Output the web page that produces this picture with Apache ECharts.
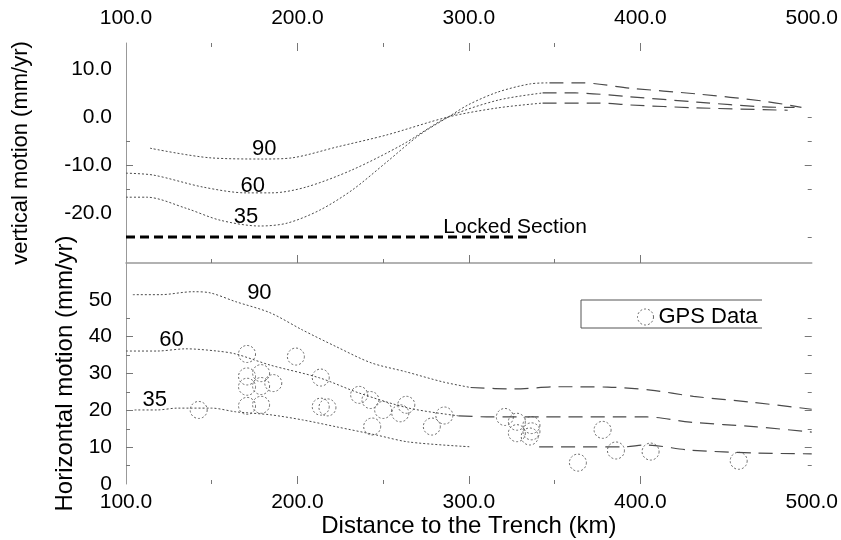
<!DOCTYPE html>
<html>
<head>
<meta charset="utf-8">
<script src="https://cdn.jsdelivr.net/npm/echarts@6/dist/echarts.min.js"></script>
<style>
  html, body { margin: 0; padding: 0; background: #fff; }
  #chart { width: 841px; height: 540px; }
</style>
</head>
<body>
<div id="chart"></div>
<script>
// top panel: vertical motion (mm/yr) vs distance to trench (km), one curve per dip
const vDist35 = [100, 112, 135, 155, 178, 194, 213, 232, 252, 271, 288, 300, 317, 336, 347, 366, 394, 433, 472, 494];
const vVal35  = [-16.7, -16.7, -19.0, -21.5, -22.7, -22.1, -19.4, -15.2, -9.4, -3.8, 0, 2.6, 5.2, 6.9, 7.1, 7.1, 6.0, 4.8, 3.3, 2.0];
const vDist60 = [100, 116, 145, 170, 185, 205, 232, 261, 288, 317, 343, 362, 394, 433, 472, 490];
const vVal60  = [-11.7, -12.1, -14.6, -15.8, -15.8, -14.6, -11.0, -5.8, 0, 3.5, 5.0, 5.0, 4.2, 3.1, 2.1, 2.0];
const vDist90 = [114, 149, 180, 197, 223, 252, 288, 317, 343, 376, 394, 433, 486];
const vVal90  = [-6.5, -8.5, -8.75, -8.5, -6.25, -3.75, 0, 1.9, 2.9, 2.9, 2.5, 1.9, 1.4];
const lockedDist = [100, 335];
const lockedVal  = [-25, -25];

// bottom panel: horizontal motion (mm/yr)
const hDist90 = [104, 120, 139, 149, 164, 184, 203, 223, 243, 263, 285, 301, 326, 352, 381, 406, 431, 465, 500];
const hVal90  = [51.4, 51.4, 52.2, 51.9, 49.5, 46.5, 41.8, 37.2, 32.9, 30.5, 27.7, 26.2, 25.8, 26.4, 26.3, 25.5, 23.8, 22.2, 20.3];
const hDist60 = [100, 118, 135, 153, 164, 184, 213, 236, 265, 294, 313, 342, 387, 404, 429, 468, 500];
const hVal60  = [36.1, 36.1, 36.7, 36.1, 35.3, 32.3, 28.8, 24.7, 20.6, 18.5, 18.2, 18.2, 18.2, 18.2, 16.8, 15.5, 14.1];
const hDist35 = [105, 118, 130, 150, 164, 184, 203, 223, 246, 265, 301, 320, 341, 391, 403, 429, 468, 500];
const hVal35  = [20.1, 20.1, 20.6, 20.6, 19.6, 18.8, 17.4, 15.5, 13.3, 11.4, 10.1, null, 10.1, 10.1, 10.6, 9.2, 8.4, 8.2];

// GPS stations
const gpsDist = [142.4, 170.6, 199.1, 170.6, 178.8, 170.6, 178.8, 185.9, 170.6, 178.8, 213.6, 213.6, 217.5,
                 236, 242.6, 243.6, 250, 260, 263.5, 278.4, 285.7, 321, 328, 328, 336.5, 336.5, 335.5,
                 378, 363.6, 385.8, 406, 457.4];
const gpsVel  = [20.1, 35.3, 34.6, 29.2, 30.1, 26.4, 26.6, 27.4, 21.2, 21.5, 28.9, 21.0, 20.8,
                 24.2, 22.8, 15.6, 20.1, 19.2, 21.5, 15.6, 18.6, 18.2, 16.9, 13.8, 16.0, 14.3, 12.9,
                 14.7, 5.8, 9.1, 8.8, 6.3];

// labels
const curveNames = ['35', '60', '90'];
const vLabelPos = [[170, -20.8], [174, -14.4], [180.7, -6.7]];
const hLabelPos = [[116.8, 22.8], [126.5, 39.1], [177.8, 51.8]];
const lockedLabelPos = [327, -22.9];
const xTickLabels = [100, 200, 300, 400, 500];
const vTickLabels = [10, 0, -10, -20];
const hTickLabels = [0, 10, 20, 30, 40, 50];

const FONT = 'Liberation Sans';
const AXIS_GRAY = '#999';
const TICK_GRAY = '#777';
const CURVE = '#4a4a4a';
const CIRCLE = { color: 'rgba(0,0,0,0)', borderColor: '#666', borderWidth: 1, borderType: [2, 2], opacity: 1 };

const pairs = (d, v) => d.map((x, i) => [x, v[i]]);
function splitAt(d, v, cut) {
  let k = 0;
  d.forEach((x, i) => { if (x <= cut) k = i; });
  return [pairs(d.slice(0, k + 1), v.slice(0, k + 1)), pairs(d.slice(k), v.slice(k))];
}

function xAx(grid, pos, ticks, len, extra) {
  return Object.assign({
    type: 'value', gridIndex: grid, position: pos, min: 100, max: 500,
    axisLine: { show: false, onZero: false },
    axisTick: { show: true, inside: true, length: len, customValues: ticks, lineStyle: { color: TICK_GRAY } },
    axisLabel: { show: false },
    splitLine: { show: false }
  }, extra || {});
}
function yAx(grid, pos, min, max, ticks, len, extra) {
  return Object.assign({
    type: 'value', gridIndex: grid, position: pos, min: min, max: max,
    axisLine: { show: false, onZero: false },
    axisTick: { show: true, inside: true, length: len, customValues: ticks, lineStyle: { color: TICK_GRAY } },
    axisLabel: { show: false },
    splitLine: { show: false }
  }, extra || {});
}

const labelStyle = { color: '#000', fontFamily: FONT, fontSize: 21 };

const xAxis = [
  // 0: top panel, labels on top
  xAx(0, 'top', [200, 300, 400], 8, {
    axisLabel: Object.assign({ show: true, customValues: xTickLabels, margin: 14,
      formatter: v => v.toFixed(1) }, labelStyle)
  }),
  xAx(0, 'top', [150, 250, 350], 4),
  // 2: separator line between panels
  xAx(0, 'bottom', [200, 300, 400], 8, {
    axisLine: { show: true, onZero: false, lineStyle: { color: AXIS_GRAY, width: 1.5 } }
  }),
  xAx(0, 'bottom', [150, 250, 350], 4),
  // 4: bottom panel
  xAx(1, 'bottom', [200, 300, 400], 8, {
    axisLabel: Object.assign({ show: true, customValues: xTickLabels, margin: 8,
      formatter: v => v.toFixed(1) }, labelStyle),
    name: 'Distance to the Trench (km)', nameLocation: 'middle', nameGap: 28,
    nameTextStyle: { color: '#000', fontFamily: FONT, fontSize: 24 }
  }),
  xAx(1, 'bottom', [150, 250, 350], 4)
];

const yAxis = [
  // 0: top panel left
  yAx(0, 'left', -30.4, 15.4, [-10], 7, {
    axisLine: { show: true, onZero: false, lineStyle: { color: AXIS_GRAY } },
    axisLabel: Object.assign({ show: true, customValues: vTickLabels, margin: 14,
      formatter: v => v.toFixed(1) }, labelStyle),
    name: 'vertical motion (mm/yr)', nameLocation: 'middle', nameGap: 94,
    nameTextStyle: { color: '#000', fontFamily: FONT, fontSize: 22 }
  }),
  yAx(0, 'left', -30.4, 15.4, [-25, -15, -5], 4),
  yAx(0, 'right', -30.4, 15.4, [-10], 7),
  yAx(0, 'right', -30.4, 15.4, [-25, -15, -5, 0], 4),
  // 4: bottom panel left
  yAx(1, 'left', 0, 60, [10, 20, 30, 40], 7, {
    axisLine: { show: true, onZero: false, lineStyle: { color: AXIS_GRAY } },
    axisLabel: Object.assign({ show: true, customValues: hTickLabels, margin: 14 }, labelStyle),
    name: 'Horizontal motion (mm/yr)', nameLocation: 'middle', nameGap: 45,
    nameTextStyle: { color: '#000', fontFamily: FONT, fontSize: 24 }
  }),
  yAx(1, 'left', 0, 60, [5, 15, 25, 35, 45], 4),
  yAx(1, 'right', 0, 60, [10, 20, 30, 40], 7),
  yAx(1, 'right', 0, 60, [5, 15, 25, 35, 45], 4)
];

function curveSeries(d, v, cut, xi, yi) {
  const parts = splitAt(d, v, cut);
  const base = { type: 'line', xAxisIndex: xi, yAxisIndex: yi, showSymbol: false, smooth: 0.3, silent: true };
  return [
    Object.assign({}, base, { data: parts[0], lineStyle: { color: CURVE, width: 1, type: [2, 2] } }),
    Object.assign({}, base, { data: parts[1], lineStyle: { color: CURVE, width: 1.2, type: [14, 8] } })
  ];
}

function textSeries(points, texts, xi, yi, size) {
  return {
    type: 'scatter', xAxisIndex: xi, yAxisIndex: yi, symbolSize: 0, silent: true,
    itemStyle: { opacity: 1 },
    data: points.map((p, i) => ({ value: p, name: texts[i] })),
    label: { show: true, position: 'inside', formatter: p => p.name,
      color: '#000', textBorderWidth: 0, fontFamily: FONT, fontSize: size }
  };
}

const series = [].concat(
  curveSeries(vDist35, vVal35, 347, 0, 0),
  curveSeries(vDist60, vVal60, 347, 0, 0),
  curveSeries(vDist90, vVal90, 347, 0, 0),
  [{
    type: 'line', xAxisIndex: 0, yAxisIndex: 0, showSymbol: false, silent: true,
    data: pairs(lockedDist, lockedVal),
    lineStyle: { color: '#000', width: 3, type: [9, 5] }
  }],
  curveSeries(hDist90, hVal90, 301, 4, 4),
  curveSeries(hDist60, hVal60, 301, 4, 4),
  curveSeries(hDist35, hVal35, 301, 4, 4),
  [{
    name: 'GPS Data', type: 'scatter', xAxisIndex: 4, yAxisIndex: 4, symbol: 'circle', symbolSize: 17,
    data: pairs(gpsDist, gpsVel),
    itemStyle: CIRCLE
  }],
  [textSeries(vLabelPos, curveNames, 0, 0, 22),
   textSeries(hLabelPos, curveNames, 4, 4, 22),
   textSeries([lockedLabelPos], ['Locked Section'], 0, 0, 21)]
);

const chart = echarts.init(document.getElementById('chart'), null, { renderer: 'canvas' });
chart.setOption({
  animation: false,
  backgroundColor: '#fff',
  grid: [
    { left: 126, right: 26, top: 43, height: 220 },
    { left: 126, right: 26, top: 263, height: 221 }
  ],
  xAxis: xAxis,
  yAxis: yAxis,
  legend: {
    data: [{ name: 'GPS Data', icon: 'circle', itemStyle: CIRCLE }],
    left: 637, top: 306, itemWidth: 16, itemHeight: 16, padding: 0,
    textStyle: { color: '#000', fontFamily: FONT, fontSize: 22 }
  },
  graphic: [{
    type: 'polyline', silent: true,
    shape: { points: [[762, 300], [581, 300], [581, 328], [762, 328]] },
    style: { stroke: '#555', lineWidth: 1, fill: null }
  }],
  series: series
});
</script>
</body>
</html>
